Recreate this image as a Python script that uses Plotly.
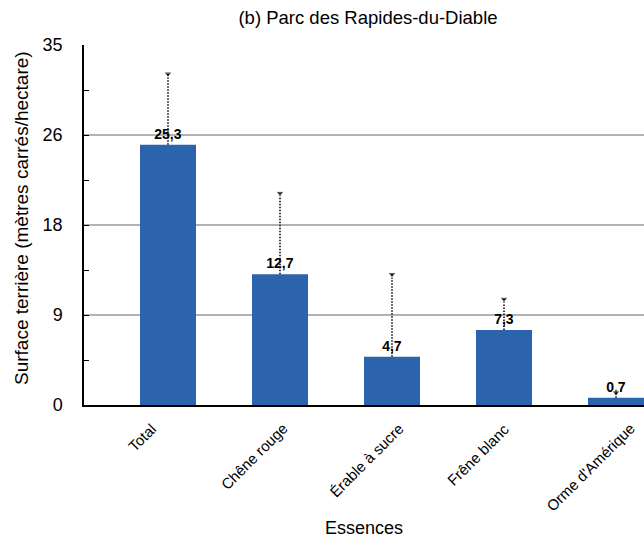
import plotly.graph_objects as go

categories = ["Total", "Chêne rouge", "Érable à sucre", "Frêne blanc", "Orme d'Amérique"]
values = [25.3, 12.7, 4.7, 7.3, 0.7]
err_plus = [6.9, 7.9, 8.0, 3.0, 0.5]
labels = ["25,3", "12,7", "4,7", "7,3", "0,7"]
ytick_vals = [0, 8.75, 17.5, 26.25, 35]
ytick_text = ["0", "9", "18", "26", "35"]

FONT = "Liberation Sans, Arial"

fig = go.Figure()
fig.add_trace(go.Bar(
    x=categories, y=values, width=0.5,
    marker=dict(color="#2B63AD", line=dict(width=0)),
    text=labels, textposition="outside", cliponaxis=False,
    textfont=dict(family=FONT, size=14, color="black", weight="bold"),
    showlegend=False,
))
for c, v, e in zip(categories, values, err_plus):
    fig.add_trace(go.Scatter(
        x=[c, c], y=[v, v + e], mode="lines+markers",
        line=dict(color="black", width=1.5, dash="1.5px,1.5px"),
        marker=dict(symbol=["circle", "triangle-down"], size=[0, 7], color="black"),
        showlegend=False, cliponaxis=False, hoverinfo="skip",
    ))

annotations = []
for c in categories:
    annotations.append(dict(
        x=c, xref="x", y=0, yref="paper", text=c, showarrow=False,
        textangle=-45, xanchor="center", yanchor="top", xshift=-26, yshift=-12,
        font=dict(family=FONT, size=15, color="black"),
    ))
annotations.append(dict(
    x=0.5, xref="paper", y=(405 - 528) / 360, yref="paper", text="Essences",
    showarrow=False, xanchor="center", yanchor="middle",
    font=dict(family=FONT, size=18, color="black"),
))
annotations.append(dict(
    x=(22 - 84) / 560, xref="paper", y=(405 - 218) / 360, yref="paper",
    text="Surface terrière (mètres carrés/hectare)", textangle=-90,
    showarrow=False, xanchor="center", yanchor="middle",
    font=dict(family=FONT, size=19, color="black"),
))

fig.update_layout(
    width=644, height=542,
    margin=dict(l=84, r=0, t=45, b=137),
    plot_bgcolor="white", paper_bgcolor="white",
    font=dict(family=FONT, color="black"),
    title=dict(text="(b) Parc des Rapides-du-Diable", x=368 / 644, xanchor="center",
               y=1 - 18 / 542, yanchor="middle", font=dict(size=18.5)),
    annotations=annotations,
)
fig.update_xaxes(
    range=[-0.75, 4.25],
    showline=True, linecolor="black", linewidth=2,
    showticklabels=False, ticks="",
)
fig.update_yaxes(
    range=[0, 35], tickmode="array", tickvals=ytick_vals, ticktext=ytick_text,
    showline=True, linecolor="black", linewidth=1.5,
    ticks="inside", ticklen=5, tickcolor="black", tickfont=dict(size=18),
    ticklabelstandoff=16,
    showgrid=True, gridcolor="#b3b3b3", gridwidth=1.5,
    zeroline=False,
    minor=dict(tickmode="linear", tick0=0, dtick=4.375, ticks="inside", ticklen=5,
               tickcolor="black", showgrid=False),
)
fig.write_html("out.html")
